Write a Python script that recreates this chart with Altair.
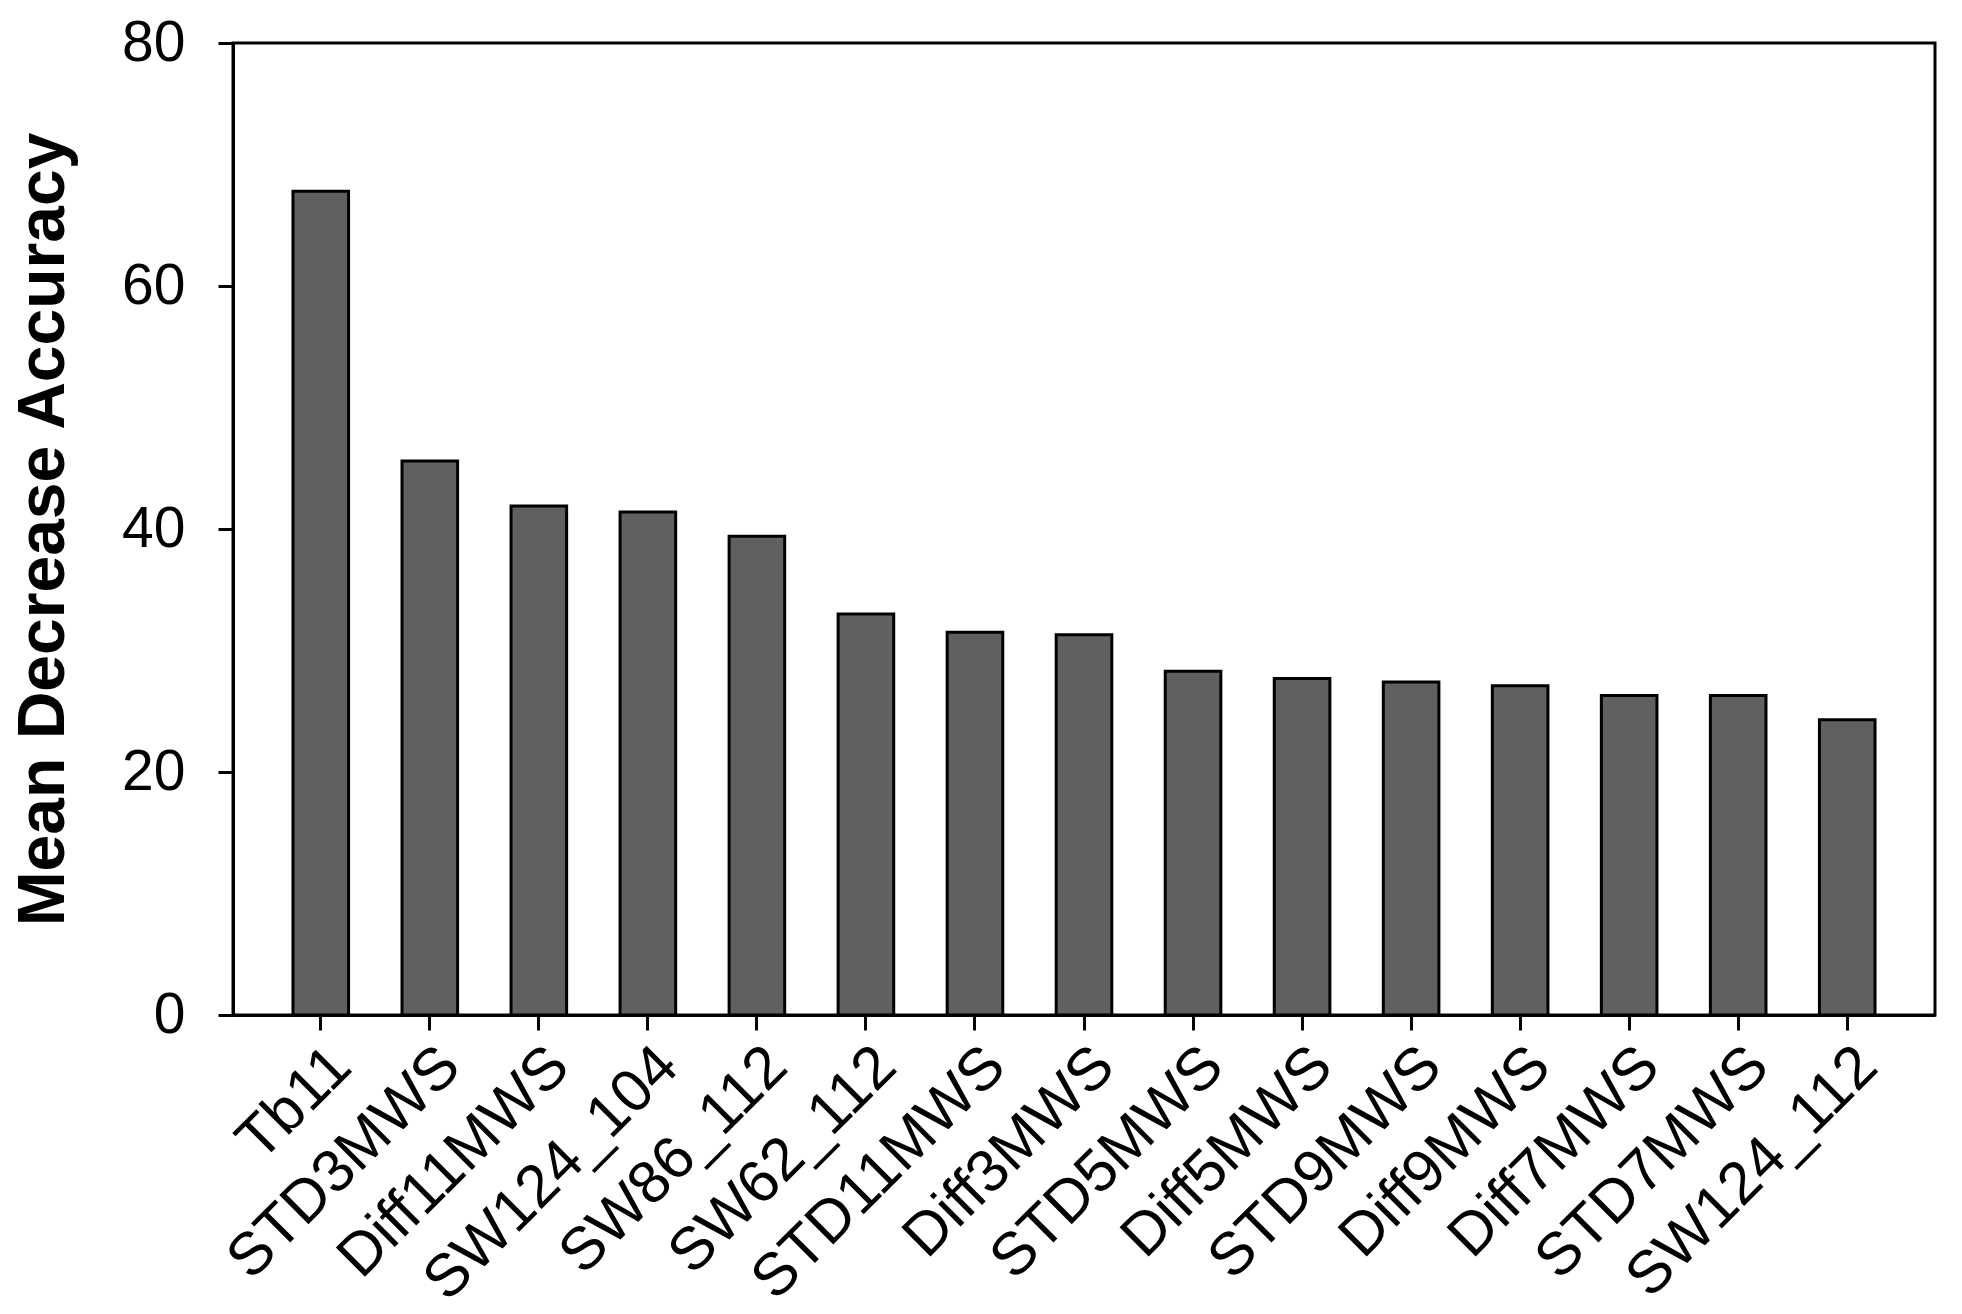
import altair as alt
import pandas as pd

categories = ["Tb11", "STD3MWS", "Diff11MWS", "SW124_104", "SW86_112", "SW62_112",
              "STD11MWS", "Diff3MWS", "STD5MWS", "Diff5MWS", "STD9MWS", "Diff9MWS",
              "Diff7MWS", "STD7MWS", "SW124_112"]
values = [67.8, 45.6, 41.9, 41.4, 39.4, 33.0, 31.5, 31.3, 28.3, 27.7, 27.4, 27.1, 26.3, 26.3, 24.3]
y_ticks = [0, 20, 40, 60, 80]

df = pd.DataFrame({"feature": categories, "mda": values})

FONT = "Liberation Sans"

chart = alt.Chart(df).mark_bar(
    fill="#606060", stroke="#000000", strokeWidth=3
).encode(
    x=alt.X("feature:N", sort=categories, title=None,
            scale=alt.Scale(paddingInner=0.49, paddingOuter=0.55),
            axis=alt.Axis(labelAngle=-45, labelAlign="right", labelBaseline="top",
                          labelFont=FONT, labelFontSize=60, labelColor="#000000",
                          labelLimit=0, labelPadding=6, tickSize=15, tickWidth=3,
                          tickColor="#000000", domainColor="#000000", domainWidth=3,
                          grid=False, labelOverlap=False)),
    y=alt.Y("mda:Q", title="Mean Decrease Accuracy",
            scale=alt.Scale(domain=[0, 80], nice=False, zero=True),
            axis=alt.Axis(values=y_ticks, labelFont=FONT, labelFontSize=57, labelColor="#000000",
                          labelPadding=33, tickSize=15, tickWidth=3, tickColor="#000000",
                          domainColor="#000000", domainWidth=3, grid=False,
                          titleFont=FONT, titleFontSize=66, titleFontWeight="bold",
                          titleColor="#000000", titlePadding=44)),
).properties(
    width=1702, height=972,
    background="#ffffff",
    autosize=alt.AutoSizeParams(type="none"),
    padding={"left": 225, "top": 35, "right": 19, "bottom": 291},
).configure_view(
    stroke="#000000", strokeWidth=3
)

chart.save("out.html", embed_options={"renderer": "svg", "actions": False})
